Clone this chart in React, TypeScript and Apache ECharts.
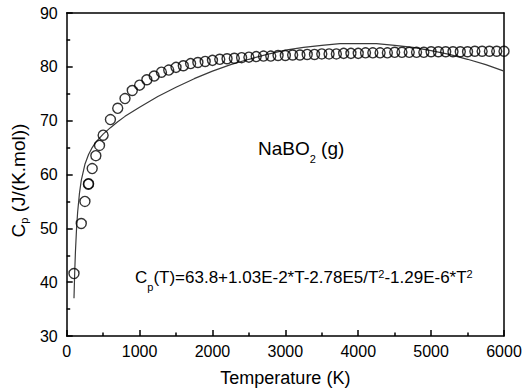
import React, { useEffect, useRef } from "react";
import * as echarts from "echarts";

// Measured heat capacity points (open circles)
const tempK = [
  100, 200, 250, 298.15, 300, 350, 400, 450, 500, 600, 700, 800, 900, 1000,
  1100, 1200, 1300, 1400, 1500, 1600, 1700, 1800, 1900, 2000, 2100, 2200,
  2300, 2400, 2500, 2600, 2700, 2800, 2900, 3000, 3100, 3200, 3300, 3400,
  3500, 3600, 3700, 3800, 3900, 4000, 4100, 4200, 4300, 4400, 4500, 4600,
  4700, 4800, 4900, 5000, 5100, 5200, 5300, 5400, 5500, 5600, 5700, 5800,
  5900, 6000,
];
const cpValues = [
  41.6, 50.9, 55.0, 58.2, 58.3, 61.1, 63.5, 65.4, 67.3, 70.2, 72.3, 74.1,
  75.6, 76.6, 77.6, 78.3, 79.0, 79.4, 79.9, 80.2, 80.6, 80.8, 81.0, 81.2,
  81.4, 81.5, 81.6, 81.7, 81.8, 81.9, 82.0, 82.0, 82.1, 82.1, 82.2, 82.2,
  82.3, 82.3, 82.4, 82.4, 82.4, 82.5, 82.5, 82.5, 82.6, 82.6, 82.6, 82.6,
  82.7, 82.7, 82.7, 82.7, 82.7, 82.8, 82.8, 82.8, 82.8, 82.8, 82.8, 82.9,
  82.9, 82.9, 82.9, 82.9,
];

// Fitted curve (solid line)
const fitT = [
  100, 110, 120, 135, 150, 175, 200, 250, 300, 350, 400, 500, 600, 700, 800,
  1000, 1250, 1500, 1750, 2000, 2250, 2500, 2750, 3000, 3250, 3500, 3750,
  4000, 4250, 4500, 4750, 5000, 5250, 5500, 5750, 6000,
];
const fitCp = [
  37.0, 41.9, 45.7, 49.9, 53.0, 56.5, 58.9, 61.9, 63.7, 65.0, 66.0, 67.5,
  68.7, 69.8, 70.8, 72.5, 74.5, 76.2, 77.8, 79.2, 80.4, 81.4, 82.3, 83.1,
  83.6, 84.0, 84.3, 84.3, 84.3, 84.0, 83.6, 83.0, 82.3, 81.4, 80.4, 79.2,
];

const xTicks = { min: 0, max: 6000, interval: 1000 };
const yTicks = { min: 30, max: 90, interval: 10 };

const FONT = "'Liberation Sans', Arial, Helvetica, sans-serif";

export default function App() {
  const ref = useRef<HTMLDivElement>(null);

  useEffect(() => {
    if (!ref.current) return;
    const chart = echarts.init(ref.current, undefined, { renderer: "svg" });

    const points = tempK.map((t, i) => [t, cpValues[i]]);
    const fit = fitT.map((t, i) => [t, fitCp[i]]);

    const lineStyle = { color: "#000", width: 1.5 };
    const tickStyle = { color: "#000", width: 1.5 };
    const labelStyle = { color: "#000", fontSize: 16, fontFamily: FONT, formatter: (v: number) => String(v) };
    const frameAxis = {
      type: "value",
      axisLine: { show: true, onZero: false, lineStyle },
      axisTick: { show: false },
      minorTick: { show: false },
      axisLabel: { show: false },
      splitLine: { show: false },
    };

    chart.setOption({
      animation: false,
      backgroundColor: "#fff",
      grid: { left: 66, top: 13, right: 26, bottom: 55 },
      xAxis: [
        {
          type: "value",
          ...xTicks,
          axisLine: { show: true, onZero: false, lineStyle },
          axisTick: { show: true, inside: true, length: 6, lineStyle: tickStyle },
          minorTick: { show: true, splitNumber: 2, length: 3.5, lineStyle: tickStyle },
          splitLine: { show: false },
          axisLabel: { ...labelStyle, margin: 7 },
          name: "Temperature (K)",
          nameLocation: "middle",
          nameGap: 33,
          nameTextStyle: { color: "#000", fontSize: 18, fontFamily: FONT },
        },
        { ...frameAxis, position: "top", ...xTicks },
      ],
      yAxis: [
        {
          type: "value",
          ...yTicks,
          axisLine: { show: true, onZero: false, lineStyle },
          axisTick: { show: true, inside: true, length: 6, lineStyle: tickStyle },
          minorTick: { show: true, splitNumber: 2, length: 3.5, lineStyle: tickStyle },
          splitLine: { show: false },
          axisLabel: { ...labelStyle, margin: 9 },
          name: "{m|C}{s|p}{m| (J/(K.mol))}",
          nameLocation: "middle",
          nameGap: 36,
          nameTextStyle: {
            color: "#000",
            fontFamily: FONT,
            padding: [0, 12, 0, 0],
            rich: {
              m: { fontSize: 19, lineHeight: 22, fontFamily: FONT, color: "#000" },
              s: { fontSize: 11, lineHeight: 12, padding: [10, 0, 0, 0], fontFamily: FONT, color: "#000" },
            },
          },
        },
        { ...frameAxis, position: "right", ...yTicks },
      ],
      graphic: [
        {
          type: "text",
          x: 258,
          y: 148,
          silent: true,
          style: {
            text: "{m|NaBO}{s|2}{m| (g)}",
            verticalAlign: "middle",
            align: "left",
            fill: "#000",
            rich: {
              m: { fontSize: 19, lineHeight: 24, fontFamily: FONT, fill: "#000" },
              s: { fontSize: 11, lineHeight: 12, padding: [21, 0, 0, 0], fontFamily: FONT, fill: "#000" },
            },
          },
        },
        {
          type: "text",
          x: 135,
          y: 277,
          silent: true,
          style: {
            text: "{m|C}{s|p}{m|(T)=63.8+1.03E-2*T-2.78E5/T}{u|2}{m|-1.29E-6*T}{u|2}",
            verticalAlign: "middle",
            align: "left",
            fill: "#000",
            rich: {
              m: { fontSize: 17, lineHeight: 22, fontFamily: FONT, fill: "#000" },
              s: { fontSize: 11, lineHeight: 12, padding: [20, 0, 0, 0], fontFamily: FONT, fill: "#000" },
              u: { fontSize: 11, lineHeight: 12, padding: [0, 0, 7, 0], fontFamily: FONT, fill: "#000" },
            },
          },
        },
      ],
      series: [
        {
          type: "line",
          data: fit,
          showSymbol: false,
          symbol: "none",
          lineStyle: { color: "#3a3a3a", width: 1.2 },
          z: 2,
        },
        {
          type: "scatter",
          data: points,
          symbol: "circle",
          symbolSize: 10,
          itemStyle: { color: "rgba(0,0,0,0)", borderColor: "#000", borderWidth: 1.4 },
          z: 3,
        },
      ],
    });

    return () => chart.dispose();
  }, []);

  return <div ref={ref} style={{ width: 530, height: 392, position: "absolute", left: 0, top: 0 }} />;
}
